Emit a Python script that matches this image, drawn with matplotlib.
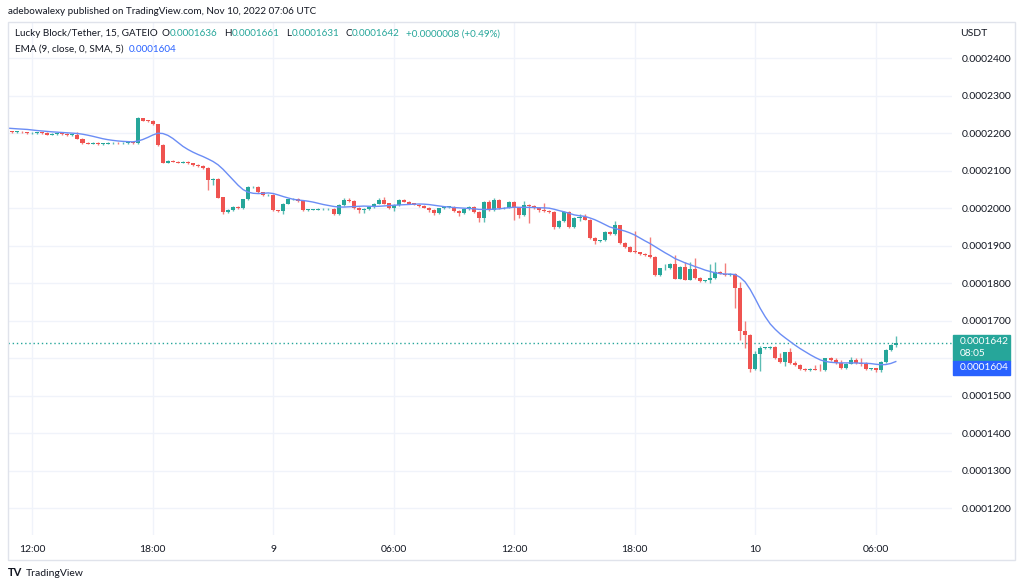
import matplotlib
matplotlib.use("Agg")
import matplotlib.pyplot as plt
from matplotlib.patches import Rectangle
import numpy as np
import pandas as pd

plt.rcParams['font.family'] = ['Lato', 'DejaVu Sans']

# 15 minute candles, index 0 = 12:00 on Nov 8, prices in units of 1e-7 USDT
first_idx = -5
first_open = 2205
closes = [
    2205, 2204, 2204, 2203, 2200,
    2201, 2202, 2201, 2197, 2199, 2200, 2198, 2196, 2197,
    2186, 2174,
    2173, 2174, 2172, 2173, 2174, 2175, 2174, 2175, 2176, 2175,
    2240, 2234, 2233, 2224, 2169, 2122,
    2127, 2125, 2122, 2124, 2120, 2116, 2113, 2108,
    2075, 2078, 2029, 1991, 1996, 2004, 2001, 2024,
    2056, 2057, 2043, 2035, 2036, 1995, 1993,
    2013, 2024, 2025, 2019,
    1995, 1997, 1997, 1998, 1998, 1999,
    1984, 2009, 2022, 2020, 2001, 1997, 1999, 2004, 2013, 2022,
    2013, 2000, 2009, 2022, 2018, 2013, 2010, 2007, 2002, 1997,
    1987, 2000, 2004, 2004, 1993, 1987, 1998, 2004, 1991, 1975,
    2018, 1996, 2022,
    2000, 2002, 2018, 2000, 1983, 2010, 2006, 2000, 1995, 1993,
    1990, 1951, 1966, 1990, 1951, 1975, 1977, 1970,
    1921, 1913, 1915, 1937, 1932, 1955, 1908, 1897, 1885, 1883,
    1878, 1875, 1870, 1822, 1840, 1840, 1852, 1813, 1844, 1810,
    1838, 1815, 1807, 1808, 1815, 1830, 1826, 1822, 1826, 1787,
    1672, 1663, 1573, 1613, 1628, 1628, 1630, 1600, 1590, 1616,
    1588, 1582, 1572, 1569, 1572, 1570, 1568, 1600, 1595, 1588,
    1575, 1586, 1596, 1588, 1585, 1572, 1573, 1569, 1590, 1622, 1636, 1642,
]
# wick length above / below the body, where it is not the usual tiny one
wicks = {
    9: (8, 2), 21: (3, 2), 35: (2, 26), 36: (3, 12), 38: (2, 6), 43: (3, 2),
    50: (2, 7), 62: (6, 2), 63: (5, 2), 65: (2, 8), 66: (2, 10), 69: (5, 2),
    70: (8, 2), 72: (2, 8), 79: (2, 6), 80: (2, 5), 85: (2, 8), 89: (2, 10),
    90: (3, 12), 91: (5, 2), 92: (6, 2), 96: (2, 30), 97: (2, 8), 98: (10, 2),
    99: (2, 45), 101: (5, 5), 102: (20, 2), 104: (2, 5), 109: (8, 8),
    110: (8, 2), 112: (2, 8), 116: (11, 2), 120: (55, 2), 123: (49, 2),
    126: (12, 5), 128: (23, 2), 130: (12, 2), 131: (20, 2), 132: (29, 2),
    135: (37, 8), 136: (26, 2), 138: (29, 2), 140: (2, 53), 141: (18, 23),
    142: (27, 35), 143: (2, 8), 144: (7, 3), 145: (4, 47), 148: (4, 2),
    149: (15, 2), 150: (2, 10), 151: (12, 2), 152: (5, 2), 156: (10, 2),
    157: (14, 2), 159: (5, 2), 160: (5, 2), 161: (8, 2), 163: (7, 2),
    164: (4, 2), 165: (12, 4), 166: (5, 2), 168: (2, 4), 169: (2, 6),
    172: (19, 5),
}
ema_seed = 2214
tick_pos = [0, 24, 48, 72, 96, 120, 144, 168]
tick_lab = ["12:00", "18:00", "9", "06:00", "12:00", "18:00", "10", "06:00"]
price_ticks = list(range(1200, 2401, 100))

UP, DOWN = "#26a69a", "#ef5350"
DARK = "#131722"
W, H = 1024, 588

def fx(x):
    return x / W

def fy(y):
    return 1 - y / H

idx = np.arange(first_idx, first_idx + len(closes))
c = np.array(closes, dtype=float)
o = np.concatenate([[first_open], c[:-1]])
hi = np.maximum(o, c)
lo = np.minimum(o, c)
for k, i in enumerate(idx):
    up, dn = wicks.get(int(i), (2, 2))
    hi[k] += up
    lo[k] -= dn

ema = [ema_seed]
for v in c[1:]:
    ema.append(ema[-1] + 0.2 * (v - ema[-1]))
ema = pd.Series(ema).rolling(5, min_periods=1).mean().values

s = 1e-7
fig = plt.figure(figsize=(W / 100, H / 100), dpi=100)
fig.patch.set_facecolor("white")
ax = fig.add_axes([fx(8), fy(535), (952 - 8) / W, (535 - 22) / H])

for p in price_ticks:
    ax.axhline(p * s, color="#f0f3fa", lw=1, zorder=0)
for t in tick_pos:
    ax.axvline(t, color="#f0f3fa", lw=1, zorder=0)

col = [UP if cc >= oo else DOWN for oo, cc in zip(o, c)]
ax.vlines(idx, lo * s, hi * s, colors=col, lw=1, alpha=0.75, zorder=2)
body_lo = np.minimum(o, c)
body_h = np.maximum(np.abs(c - o), 1.6)
ax.bar(idx, body_h * s, bottom=body_lo * s, width=0.8, color=col, zorder=3)

ax.plot(idx, ema * s, color="#6b8df5", lw=1, zorder=4)
ax.axhline(c[-1] * s, color=UP, lw=1, ls=(0, (1, 2)), zorder=1)

ax.set_xlim(-4.84, 183.2)
ax.set_ylim(1129 * s, 2497 * s)
for sp in ax.spines.values():
    sp.set_visible(False)
ax.yaxis.tick_right()
ax.set_yticks([p * s for p in price_ticks])
# the 0.0001600 label sits under the last-price boxes
ax.set_yticklabels(["" if p == 1600 else f"{p * s:.7f}" for p in price_ticks])
ax.tick_params(axis="y", length=0, pad=7, labelsize=7.5, labelcolor=DARK)
ax.set_xticks(tick_pos)
ax.set_xticklabels(tick_lab)
ax.tick_params(axis="x", length=0, pad=7, labelsize=7.5, labelcolor=DARK)

# frame
fig.add_artist(Rectangle((fx(8), fy(560)), (1015 - 8) / W, (560 - 22) / H,
                         transform=fig.transFigure, fill=False,
                         ec="#e0e3eb", lw=1))

# price labels on the scale
fig.add_artist(Rectangle((fx(953), fy(361)), 57 / W, 26 / H,
                         transform=fig.transFigure, color=UP, zorder=5))
fig.add_artist(Rectangle((fx(953), fy(375)), 57 / W, 14 / H,
                         transform=fig.transFigure, color="#2962ff", zorder=5))
fig.text(fx(960), fy(342), "0.0001642", color="white", fontsize=7.3, va="center", zorder=6)
fig.text(fx(960), fy(354), "08:05", color="white", fontsize=7.3, va="center", zorder=6)
fig.text(fx(960), fy(368), "0.0001604", color="white", fontsize=7.3, va="center", zorder=6)
fig.text(fx(960), fy(34), "USDT", color=DARK, fontsize=7.5, va="center")

# header and legend
fig.text(fx(8), fy(12), "adebowalexy published on TradingView.com, Nov 10, 2022 07:06 UTC",
         color=DARK, fontsize=7.1, va="center")

renderer = fig.canvas.get_renderer()

def chain(x, y, parts):
    # put texts one after another, each starting where the last one ended
    for gap, t, cl in parts:
        x += gap
        txt = fig.text(fx(x), fy(y), t, color=cl, fontsize=7.1, va="center")
        x = txt.get_window_extent(renderer).x1

legend1 = [(0, "Lucky Block/Tether, 15, GATEIO", DARK), (4, "O", DARK), (0.5, "0.0001636", UP),
           (6, "H", DARK), (0.5, "0.0001661", UP), (6, "L", DARK), (0.5, "0.0001631", UP),
           (6, "C", DARK), (0.5, "0.0001642", UP), (6, "+0.0000008 (+0.49%)", UP)]
chain(15, 34, legend1)
chain(15, 49, [(0, "EMA (9, close, 0, SMA, 5)", DARK), (5, "0.0001604", "#2962ff")])

# footer logo
fig.text(fx(8), fy(573), "TV", color=DARK, fontsize=8, fontweight="bold", va="center")
fig.text(fx(26), fy(573), "TradingView", color=DARK, fontsize=7.5, va="center")

fig.savefig("out.png", dpi=100, facecolor="white")
